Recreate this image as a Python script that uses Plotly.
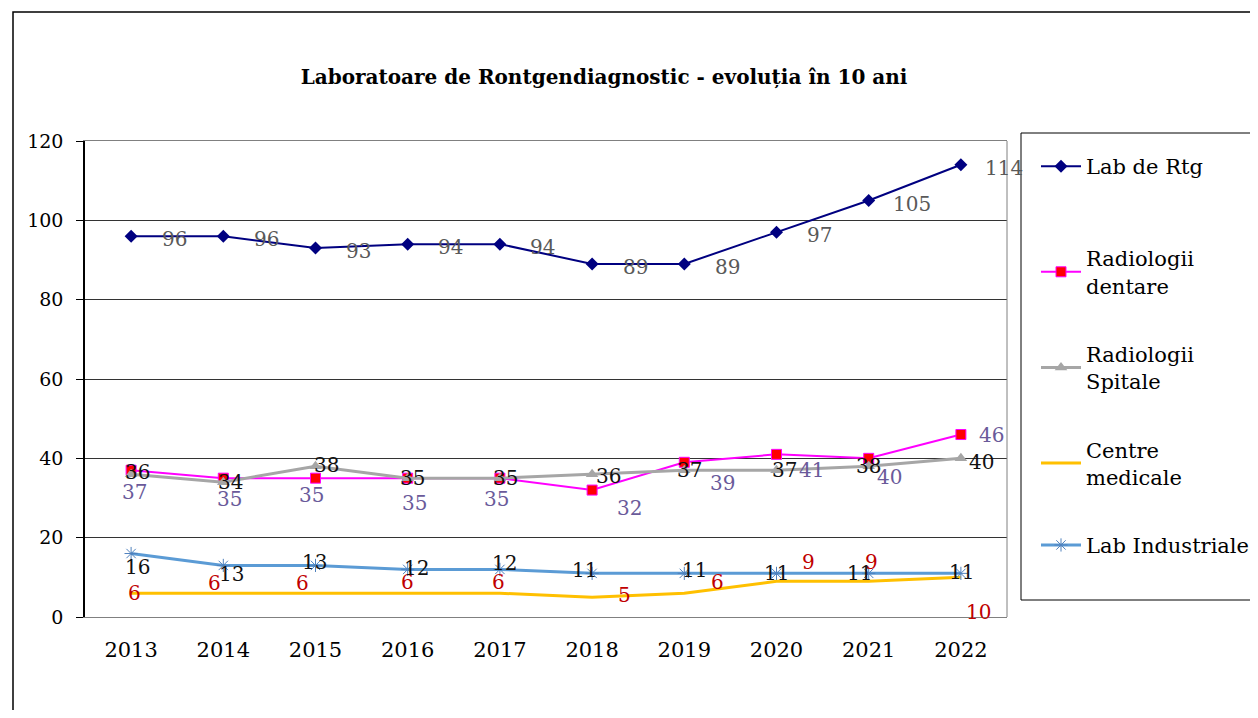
import plotly.graph_objects as go

years = [2013, 2014, 2015, 2016, 2017, 2018, 2019, 2020, 2021, 2022]
year_labels = ["2013", "2014", "2015", "2016", "2017", "2018", "2019", "2020", "2021", "2022"]
lab_rtg = [96, 96, 93, 94, 94, 89, 89, 97, 105, 114]
rad_dentare = [37, 35, 35, 35, 35, 32, 39, 41, 40, 46]
rad_spitale = [36, 34, 38, 35, 35, 36, 37, 37, 38, 40]
centre_medicale = [6, 6, 6, 6, 6, 5, 6, 9, 9, 10]
lab_industriale = [16, 13, 13, 12, 12, 11, 11, 11, 11, 11]
y_ticks = [0, 20, 40, 60, 80, 100, 120]

FONT = "DejaVu Serif, Liberation Serif, serif"

# label pixel offsets (dx right, dy down) per point – styling only
off_rtg = [(43, 3)] * 10
off_dent = [(3, 22), (6, 21), (-4, 17), (7, 25), (-3, 21), (37, 18), (38, 21), (35, 16), (21, 19), (31, 0)]
off_spit = [(6, -2), (7, 0), (11, -1), (5, 0), (6, 0), (16, 2), (5, 0), (8, 0), (0, 0), (21, 4)]
off_cent = [(3, 0), (-9, -10), (-13, -10), (0, -11), (-1, -11), (32, -2), (33, -11), (32, -19), (3, -19), (18, 35)]
off_ind = [(6, 13), (8, 9), (-1, -3), (9, -1), (5, -6), (-8, -3), (10, -3), (0, 0), (-9, 0), (1, -1)]

series = [
    ("Lab de Rtg", lab_rtg, dict(color="#000080", width=2), dict(symbol="diamond", size=10, color="#000080"), "lines+markers", "#595959", off_rtg, "legend"),
    ("Radiologii<br>dentare", rad_dentare, dict(color="#FF00FF", width=2), dict(symbol="square", size=10, color="#FF0000", line=dict(color="#FF00FF", width=1)), "lines+markers", "#6A5A9A", off_dent, "legend2"),
    ("Radiologii<br>Spitale", rad_spitale, dict(color="#A6A6A6", width=3), dict(symbol="triangle-up", size=11, color="#A6A6A6"), "lines+markers", "#111111", off_spit, "legend2"),
    ("Centre<br>medicale", centre_medicale, dict(color="#FFC000", width=3), dict(size=1, color="#FFC000"), "lines", "#C00000", off_cent, "legend2"),
    ("Lab Industriale", lab_industriale, dict(color="#5B9BD5", width=3), dict(symbol="asterisk-open", size=11, color="#4F81BD", line=dict(color="#4F81BD", width=1)), "lines+markers", "#111111", off_ind, "legend2"),
]

fig = go.Figure()
annotations = []
for i, (name, vals, line, marker, mode, lblcol, offs, leg) in enumerate(series):
    fig.add_trace(go.Scatter(x=years, y=vals, name=name, mode=mode, line=line, marker=marker,
                             legendgroup=f"g{i}", legend=leg, cliponaxis=False))
    for x, v, (dx, dy) in zip(years, vals, offs):
        annotations.append(dict(x=x, y=v, xref="x", yref="y", text=str(v), showarrow=False,
                                xshift=dx, yshift=-dy,
                                font=dict(family=FONT, size=20, color=lblcol)))

# page body has an 8px margin; reference pixel coords are shifted by it.
# The figure is made a bit wider than the window so the legend never pushes the margins.
O = 8
W, H = 1300, 702
L, R, T, B = 85 - O, 1007 - O, 141 - O, 617 - O
pw, ph = R - L, B - T


def px(xp):
    return (xp - O - L) / pw


def py(yp):
    return (B - (yp - O)) / ph


legend_common = dict(xanchor="left", yanchor="top", bgcolor="rgba(0,0,0,0)", borderwidth=0,
                     font=dict(family=FONT, size=21, color="black"), itemwidth=40)

fig.update_layout(
    width=W, height=H,
    margin=dict(l=L, r=W - R, t=T, b=H - B),
    paper_bgcolor="white", plot_bgcolor="white",
    font=dict(family=FONT, size=19, color="black"),
    title=dict(text="<b>Laboratoare de Rontgendiagnostic - evoluția în 10 ani</b>",
               x=px(604), xref="paper", xanchor="center",
               y=1 - (77 - O) / H, yref="container", yanchor="middle",
               font=dict(family=FONT, size=20, color="black")),
    xaxis=dict(range=[2012.5, 2022.5], tickvals=years, ticktext=year_labels,
               showgrid=False, showline=True, linecolor="#808080", linewidth=1,
               mirror=True, ticks="", ticklabelstandoff=14, zeroline=False,
               tickfont=dict(family=FONT, size=21, color="black")),
    yaxis=dict(range=[0, 120], tickvals=y_ticks, showgrid=True, gridcolor="#333333", gridwidth=1,
               showline=True, linecolor="#000000", linewidth=1.5, ticks="outside", ticklen=7,
               tickcolor="#000000", zeroline=False, ticklabelstandoff=9,
               tickfont=dict(family=FONT, size=19, color="black")),
    legend=dict(x=px(1036), y=py(146), **legend_common),
    legend2=dict(x=px(1036), y=py(238), tracegroupgap=38, **legend_common),
    showlegend=True,
    annotations=annotations,
    shapes=[
        dict(type="rect", xref="paper", yref="paper", x0=px(13), x1=px(1254), y0=py(760), y1=py(12),
             line=dict(color="black", width=1.5), fillcolor="rgba(0,0,0,0)", layer="below"),
        dict(type="line", xref="paper", yref="paper", x0=1, x1=1, y0=0, y1=1,
             line=dict(color="#808080", width=1)),
        dict(type="rect", xref="paper", yref="paper", x0=px(1021), x1=px(1252), y0=py(600), y1=py(133),
             line=dict(color="black", width=1), fillcolor="rgba(0,0,0,0)"),
    ],
)

fig.write_html("out.html")
